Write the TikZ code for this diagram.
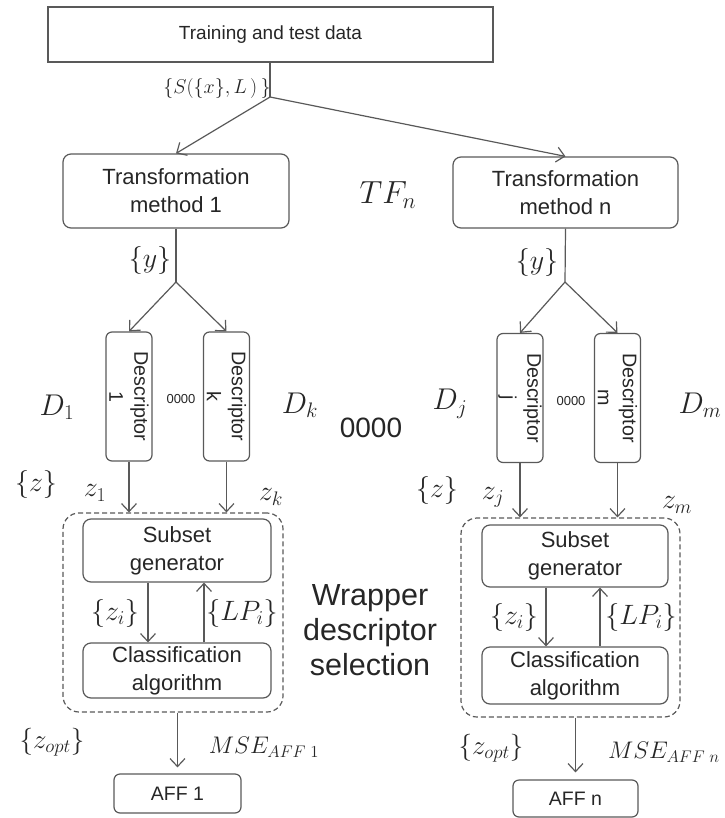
\RequirePackage{fix-cm}
\documentclass[tikz,border=0pt]{standalone}
\usepackage{amsmath}
\usepackage{fontspec}
\setmainfont{Liberation Sans}
\usepackage{tikz}
\usetikzlibrary{arrows.meta}
\usetikzlibrary{positioning}
\definecolor{linegray}{HTML}{595959}
\definecolor{textgray}{HTML}{262626}
\tikzset{arr/.style = {draw=linegray, line width=1.2pt,
                       -{Straight Barb[length=8pt,width=15pt,line width=1.2pt]}},
         plain/.style = {draw=linegray, line width=1.2pt},
         box/.style = {draw=linegray, line width=1.2pt, rounded corners=8pt,
                       align=center, text=textgray, inner sep=0pt,
                       font=\fontsize{22}{28}\selectfont},
         descbox/.style = {box, rotate=-90, rounded corners=6pt,
                           minimum width=129pt, minimum height=46pt,
                           font=\fontsize{19.7}{25}\selectfont},
         wrapbox/.style = {draw=linegray, line width=1.2pt, dash pattern=on 5pt off 3pt,
                           rounded corners=16pt, inner sep=0pt},
         lab/.style = {text=textgray, inner sep=0pt, font=\fontsize{28}{30}\selectfont}}

\begin{document}
\begin{tikzpicture}[x=1pt, y=-1pt]
    \useasboundingbox (0, 0) rectangle (724, 818);

    \node [box, rounded corners=0pt, minimum width=445pt, minimum height=55pt,
           font=\fontsize{19}{22}\selectfont] (data) at (270.5, 34.5) {Training and test data};
    \coordinate (split) at (270, 97);
    \node [lab, font=\fontsize{20}{22}\selectfont] (slab) at (217, 89) {$\{S(\{x\},L\,)\,\}$};

    \node [box, minimum width=226pt, minimum height=74pt] (tf1) at (176, 191) {Transformation\\method 1};
    \node [box, minimum width=225pt, minimum height=71pt] (tfn) at (565.5, 192.5) {Transformation\\method n};
    \node [lab, font=\fontsize{32}{34}\selectfont] (tflab) at (388, 195) {$TF_n$};

    \draw [plain] (data.south -| split) -- (split);
    \draw [arr] (split) -- (tf1.north);
    \draw [arr] (split) -- (tfn.north);

    % descriptors (rotated: west is the top, east the bottom)
    \coordinate (sp1) at (176, 282);
    \coordinate (spn) at (565, 282);
    \node [lab] (y1) at (150, 260) {$\{y\}$};
    \node [lab] (yn) at (537, 262) {$\{y\}$};

    \node [descbox] (d1) at (129, 396.5) {Descriptor\\1};
    \node [descbox] (dk) at (226.5, 396.5) {Descriptor\\k};
    \node [descbox] (dj) at (520, 398) {Descriptor\\j};
    \node [descbox] (dm) at (617.5, 398) {Descriptor\\m};

    \draw [plain] (tf1.south) -- (sp1);
    \draw [plain] (tfn.south) -- (spn);
    \draw [arr] (sp1) -- (d1.west);
    \draw [arr] (sp1) -- (dk.west);
    \draw [arr] (spn) -- (dj.west);
    \draw [arr] (spn) -- (dm.west);

    \node [lab, font=\fontsize{13}{14}\selectfont] (dots1) at (181, 399) {0000};
    \node [lab, font=\fontsize{13}{14}\selectfont] (dotsn) at (571, 401) {0000};
    \node [lab, font=\fontsize{28}{30}\selectfont] (dotsm) at (371, 428) {0000};

    \node [lab, font=\fontsize{30}{32}\selectfont] (D1) at (57, 407) {$D_1$};
    \node [lab, font=\fontsize{30}{32}\selectfont] (Dk) at (300, 405) {$D_k$};
    \node [lab, font=\fontsize{30}{32}\selectfont] (Dj) at (450, 404) {$D_j$};
    \node [lab, font=\fontsize{30}{32}\selectfont] (Dm) at (700, 405) {$D_m$};

    % wrapper selection
    \node [wrapbox, minimum width=220pt, minimum height=199pt] (wrap1) at (173, 612.5) {};
    \node [wrapbox, minimum width=219pt, minimum height=199pt] (wrapn) at (570.5, 617.5) {};
    \node [box, minimum width=188pt, minimum height=63pt] (sg1) at (177, 550.5) {Subset\\generator};
    \node [box, minimum width=188pt, minimum height=55pt] (ca1) at (177, 670.5) {Classification\\algorithm};
    \node [box, minimum width=186pt, minimum height=62pt] (sgn) at (575, 556) {Subset\\generator};
    \node [box, minimum width=186pt, minimum height=57pt] (can) at (575, 675.5) {Classification\\algorithm};

    \draw [arr] (d1.east) -- (d1.east |- wrap1.north);
    \draw [arr] (dk.east) -- (dk.east |- wrap1.north);
    \draw [arr] (dj.east) -- (dj.east |- wrapn.north);
    \draw [arr] (dm.east) -- (dm.east |- wrapn.north);

    \node [lab] (z1) at (36, 484) {$\{z\}$};
    \node [lab] (zn) at (437, 490) {$\{z\}$};
    \node [lab] (z1a) at (95, 493) {$z_1$};
    \node [lab] (z1b) at (271, 497) {$z_k$};
    \node [lab] (zna) at (493, 497) {$z_j$};
    \node [lab] (znb) at (677, 505) {$z_m$};

    \draw [arr] ([xshift=-29pt]sg1.south) -- ([xshift=-29pt]ca1.north);
    \draw [arr] ([xshift=27pt]ca1.north) -- ([xshift=27pt]sg1.south);
    \draw [arr] ([xshift=-29pt]sgn.south) -- ([xshift=-29pt]can.north);
    \draw [arr] ([xshift=25pt]can.north) -- ([xshift=25pt]sgn.south);

    \node [lab] (zi1) at (115, 613) {$\{z_i\}$};
    \node [lab] (lp1) at (242, 613) {$\{LP_i\}$};
    \node [lab] (zin) at (514, 617) {$\{z_i\}$};
    \node [lab] (lpn) at (641, 617) {$\{LP_i\}$};

    \node [lab, align=center, font=\fontsize{30.5}{35}\selectfont] (wlab) at (370, 630) {Wrapper\\descriptor\\selection};

    % outputs
    \node [box, rounded corners=6pt, minimum width=127pt, minimum height=39pt,
           font=\fontsize{19.5}{22}\selectfont] (aff1) at (177.5, 793.5) {AFF 1};
    \node [box, rounded corners=6pt, minimum width=125pt, minimum height=37pt,
           font=\fontsize{19.5}{22}\selectfont] (affn) at (575.5, 798.5) {AFF n};
    \draw [arr, shorten >=6pt] (aff1.north |- wrap1.south) -- (aff1.north);
    \draw [arr, shorten >=7pt] (affn.north |- wrapn.south) -- (affn.north);

    \node [lab, font=\fontsize{27}{29}\selectfont] (zo1) at (52, 742) {$\{z_{opt}\}$};
    \node [lab, font=\fontsize{27}{29}\selectfont] (zon) at (491, 748) {$\{z_{opt}\}$};
    \node [lab, font=\fontsize{24}{26}\selectfont] (mse1) at (264, 747) {$MSE_{AFF\;1}$};
    \node [lab, font=\fontsize{24}{26}\selectfont] (msen) at (664, 752) {$MSE_{AFF\;n}$};
  \end{tikzpicture}
\end{document}
